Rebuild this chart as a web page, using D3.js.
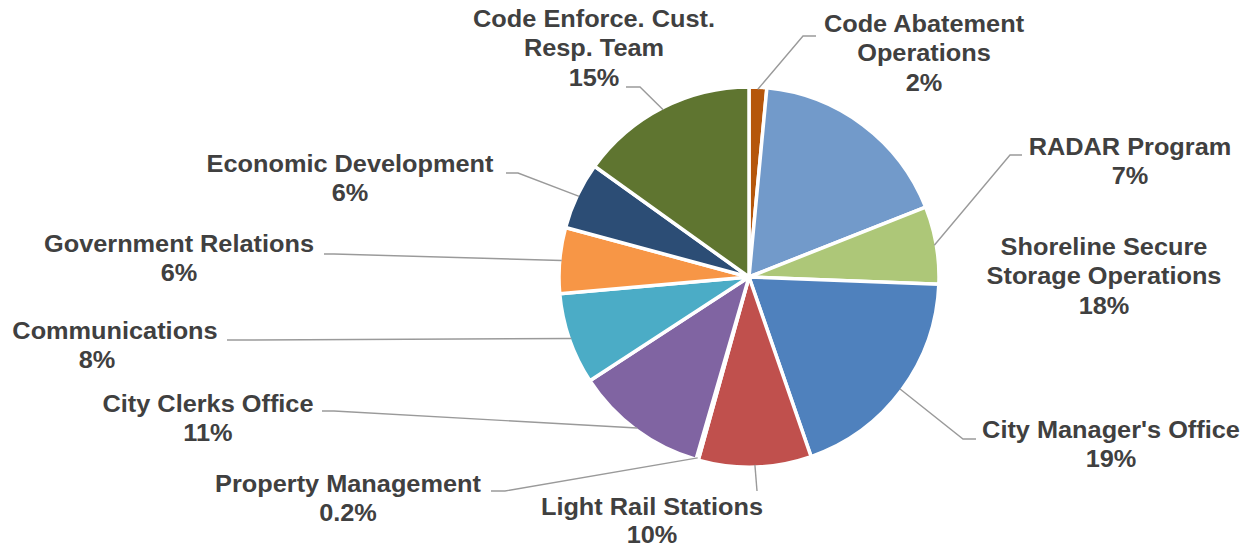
<!DOCTYPE html>
<html>
<head>
<meta charset="utf-8">
<script src="https://cdn.jsdelivr.net/npm/d3@7/dist/d3.min.js"></script>
<style>
  html, body { margin: 0; padding: 0; background: #ffffff; }
  svg { display: block; }
  text { font-family: "Liberation Sans", Arial, sans-serif; font-weight: bold; fill: #404040; }
</style>
</head>
<body>
<svg id="chart" width="1247" height="549"></svg>
<script>
// ---- data ----
const categories = [
  "Code Abatement Operations",
  "Shoreline Secure Storage Operations",
  "RADAR Program",
  "City Manager's Office",
  "Light Rail Stations",
  "Property Management",
  "City Clerks Office",
  "Communications",
  "Government Relations",
  "Economic Development",
  "Code Enforce. Cust. Resp. Team"
];
const values = [1.5, 17.5, 6.6, 19.1, 9.6, 0.2, 11.3, 7.8, 5.6, 5.7, 15.1];
const labelLines = [
  ["Code Abatement", "Operations"],
  ["Shoreline Secure", "Storage Operations"],
  ["RADAR Program"],
  ["City Manager's Office"],
  ["Light Rail Stations"],
  ["Property Management"],
  ["City Clerks Office"],
  ["Communications"],
  ["Government Relations"],
  ["Economic Development"],
  ["Code Enforce. Cust.", "Resp. Team"]
];
const colors = ["#b5560b", "#729aca", "#adc778", "#4f81bd", "#c0504d", "#9bbb59",
                "#8064a2", "#4bacc6", "#f79646", "#2c4d75", "#5f7530"];

// ---- layout (label placement) ----
const labelLayout = [
  { x: 924,  y: 32,  leader: [[803, 36], [816, 36]] },
  { x: 1104, y: 255, leader: null },
  { x: 1130, y: 155, leader: [[1010, 155], [1022, 155]] },
  { x: 1111, y: 438, leader: [[963, 439], [976, 439]] },
  { x: 652,  y: 515, lh: 28.5, leader: [[757, 491]] },
  { x: 348,  y: 492, leader: [[505, 491], [491, 491]] },
  { x: 208,  y: 412, leader: [[334, 411], [322, 411]] },
  { x: 115,  y: 339, leader: [[240, 340], [227, 340]], pctDx: -18 },
  { x: 179,  y: 252, leader: [[334, 254], [324, 254]] },
  { x: 350,  y: 172, leader: [[518, 173], [506, 173]] },
  { x: 594,  y: 27,  leader: [[640, 87], [626, 87]] }
];

const cx = 749, cy = 277, R = 190;
const fontSize = 24, lineH = 29.5, stretch = 1.055;

const svg = d3.select("#chart");
const total = d3.sum(values);
const data = categories.map((c, i) => ({ name: c, value: values[i], i }));

const pie = d3.pie().sort(null).value(d => d.value).startAngle(0).endAngle(2 * Math.PI);
const arcs = pie(data);
const arc = d3.arc().innerRadius(0).outerRadius(R);
const edgeArc = d3.arc().innerRadius(R - 2).outerRadius(R - 2);

const g = svg.append("g").attr("transform", `translate(${cx},${cy})`);

g.selectAll("path.slice")
  .data(arcs)
  .join("path")
  .attr("class", "slice")
  .attr("d", arc)
  .attr("fill", d => colors[d.data.i])
  .attr("stroke", "#ffffff")
  .attr("stroke-width", 3.5)
  .attr("stroke-linejoin", "round");

// leader lines
const line = d3.line();
arcs.forEach(d => {
  const L = labelLayout[d.data.i];
  if (!L.leader) return;
  const c = edgeArc.centroid(d);
  const pts = [[cx + c[0], cy + c[1]], ...L.leader];
  svg.append("path")
    .attr("d", line(pts))
    .attr("fill", "none")
    .attr("stroke", "#9a9a9a")
    .attr("stroke-width", 1.4);
});

// labels
const fmtPct = v => {
  const p = v / total * 100;
  return (p < 1 ? d3.format(".1f")(p) : Math.round(p)) + "%";
};
arcs.forEach(d => {
  const i = d.data.i;
  const L = labelLayout[i];
  const lg = svg.append("g").attr("transform", `translate(${L.x},${L.y}) scale(${stretch},1)`);
  const lines = labelLines[i].concat([fmtPct(d.data.value)]);
  const lh = L.lh || lineH;
  lines.forEach((t, k) => {
    const isPct = k === lines.length - 1;
    lg.append("text")
      .attr("x", isPct && L.pctDx ? L.pctDx / stretch : 0)
      .attr("y", k * lh)
      .attr("text-anchor", "middle")
      .attr("font-size", fontSize)
      .text(t);
  });
});
</script>
</body>
</html>
